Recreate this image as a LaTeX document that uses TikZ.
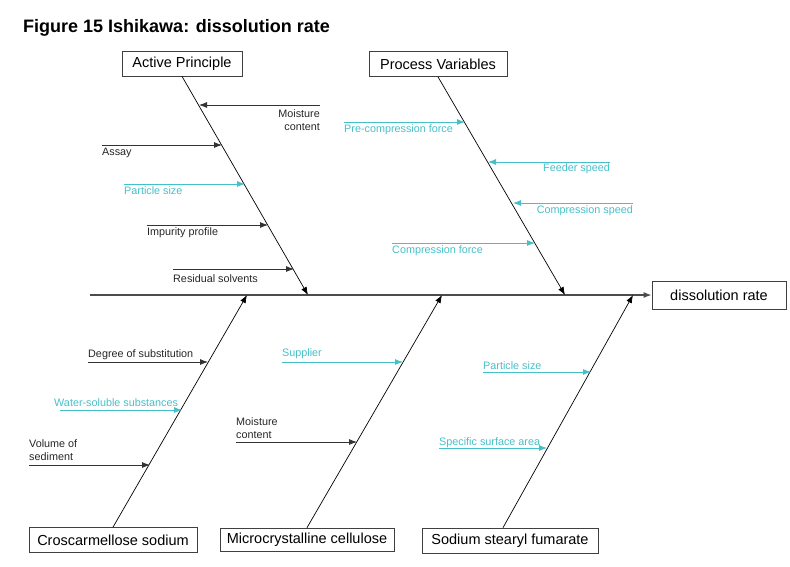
\documentclass[tikz,border=0pt]{standalone}
\usepackage{fontspec}
\setmainfont{Liberation Sans}
\usepackage{xcolor}
\usetikzlibrary{arrows.meta}
\definecolor{causecyan}{RGB}{70,192,200}

\begin{document}
\begin{tikzpicture}[x=1pt,y=1pt,>={Latex[length=8pt,width=6pt]},
  cat/.style={draw=black!75,line width=0.7pt,minimum height=25pt,inner sep=0pt,font=\fontsize{14.5}{17}\selectfont},
  sub/.style={font=\fontsize{10.8}{13.5}\selectfont,inner sep=0pt,text=black!85}]
\tikzset{cy/.style={causecyan,text=causecyan}, bone/.style={line width=0.7pt}}
\useasboundingbox (0,0) rectangle (790,-566);
\node[anchor=base west,inner sep=0pt,font=\bfseries\fontsize{18}{20}\selectfont] (t) at (23,-32) {Figure 15 Ishikawa: dissolution rate};
\node[cat,minimum width=120pt] (0) at (182,-63.5) {Active Principle};
\node[cat,minimum width=138pt] (1) at (438,-64) {Process Variables};
\node[cat,minimum width=134pt,minimum height=28pt] (2) at (719,-295) {dissolution rate};
\node[cat,minimum width=168pt] (3) at (113,-540) {Croscarmellose sodium};
\node[cat,minimum width=174pt,minimum height=23pt] (4) at (307,-539.5) {Microcrystalline cellulose};
\node[cat,minimum width=176pt] (5) at (510,-540.5) {Sodium stearyl fumarate};
\coordinate (6) at (90,-295);
\coordinate (7) at (308,-295);
\coordinate (8) at (565,-295);
\coordinate (9) at (247,-295);
\coordinate (10) at (442,-295);
\coordinate (11) at (633,-295);
% causes, start and end on the bone
\coordinate (12) at (320,-105); \coordinate (13) at (199,-105);
\coordinate (14) at (102,-145); \coordinate (15) at (222,-145);
\coordinate (16) at (124,-184); \coordinate (17) at (245,-184);
\coordinate (18) at (147,-225); \coordinate (19) at (268,-225);
\coordinate (20) at (173,-269); \coordinate (21) at (294,-269);
\coordinate (22) at (344,-122); \coordinate (23) at (465,-122);
\coordinate (24) at (610,-162); \coordinate (25) at (488,-162);
\coordinate (26) at (633,-203); \coordinate (27) at (513,-203);
\coordinate (28) at (392,-243); \coordinate (29) at (535,-243);
\coordinate (30) at (88,-362); \coordinate (31) at (208,-362);
\coordinate (32) at (60,-410); \coordinate (33) at (182,-410);
\coordinate (34) at (29,-465); \coordinate (35) at (150,-465);
\coordinate (36) at (282,-362); \coordinate (37) at (403,-362);
\coordinate (38) at (236,-442); \coordinate (39) at (357,-442);
\coordinate (40) at (483,-372); \coordinate (41) at (591,-372);
\coordinate (42) at (439,-448); \coordinate (43) at (547,-448);
% labels
\node[sub,anchor=north east,align=right] (44) at (320,-109) {Moisture\\content};
\node[sub,anchor=west] (45) at (102,-153) {Assay};
\node[sub,cy,anchor=west] (46) at (124,-191) {Particle size};
\node[sub,anchor=west] (47) at (147,-233) {Impurity profile};
\node[sub,anchor=west] (48) at (173,-279) {Residual solvents};
\node[sub,cy,anchor=west] (49) at (344,-130) {Pre-compression force};
\node[sub,cy,anchor=east] (50) at (610,-169) {Feeder speed};
\node[sub,cy,anchor=east] (51) at (633,-211) {Compression speed};
\node[sub,cy,anchor=west] (52) at (392,-251) {Compression force};
\node[sub,anchor=west] (53) at (88,-355) {Degree of substitution};
\node[sub,cy,anchor=west] (54) at (54,-403) {Water-soluble substances};
\node[sub,anchor=south west,align=left] (55) at (29,-461) {Volume of\\sediment};
\node[sub,cy,anchor=west] (56) at (282,-354) {Supplier};
\node[sub,anchor=south west,align=left] (57) at (236,-439) {Moisture\\content};
\node[sub,cy,anchor=west] (58) at (483,-366) {Particle size};
\node[sub,cy,anchor=west] (59) at (439,-443) {Specific surface area};
\path[->,line width=1.4pt,black!70] (6) edge (2);
\path[->,bone] (0.south) edge (7);
\path[->,bone] (1.south) edge (8);
\path[->,bone] (3.north) edge (9);
\path[->,bone] (4.north) edge (10);
\path[->,bone] ([xshift=-7pt]5.north) edge (11);
\path[->,line width=0.8pt,black!80] (12) edge (13);
\path[->,line width=0.8pt,black!80] (14) edge (15);
\path[->,line width=0.8pt,cy] (16) edge (17);
\path[->,line width=0.8pt,black!80] (18) edge (19);
\path[->,line width=0.8pt,black!80] (20) edge (21);
\path[->,line width=0.8pt,cy] (22) edge (23);
\path[->,line width=0.8pt,cy] (24) edge (25);
\path[->,line width=0.8pt,cy] (26) edge (27);
\path[->,line width=0.8pt,cy] (28) edge (29);
\path[->,line width=0.8pt,black!80] (30) edge (31);
\path[->,line width=0.8pt,cy] (32) edge (33);
\path[->,line width=0.8pt,black!80] (34) edge (35);
\path[->,line width=0.8pt,cy] (36) edge (37);
\path[->,line width=0.8pt,black!80] (38) edge (39);
\path[->,line width=0.8pt,cy] (40) edge (41);
\path[->,line width=0.8pt,cy] (42) edge (43);
\end{tikzpicture}
\end{document}
